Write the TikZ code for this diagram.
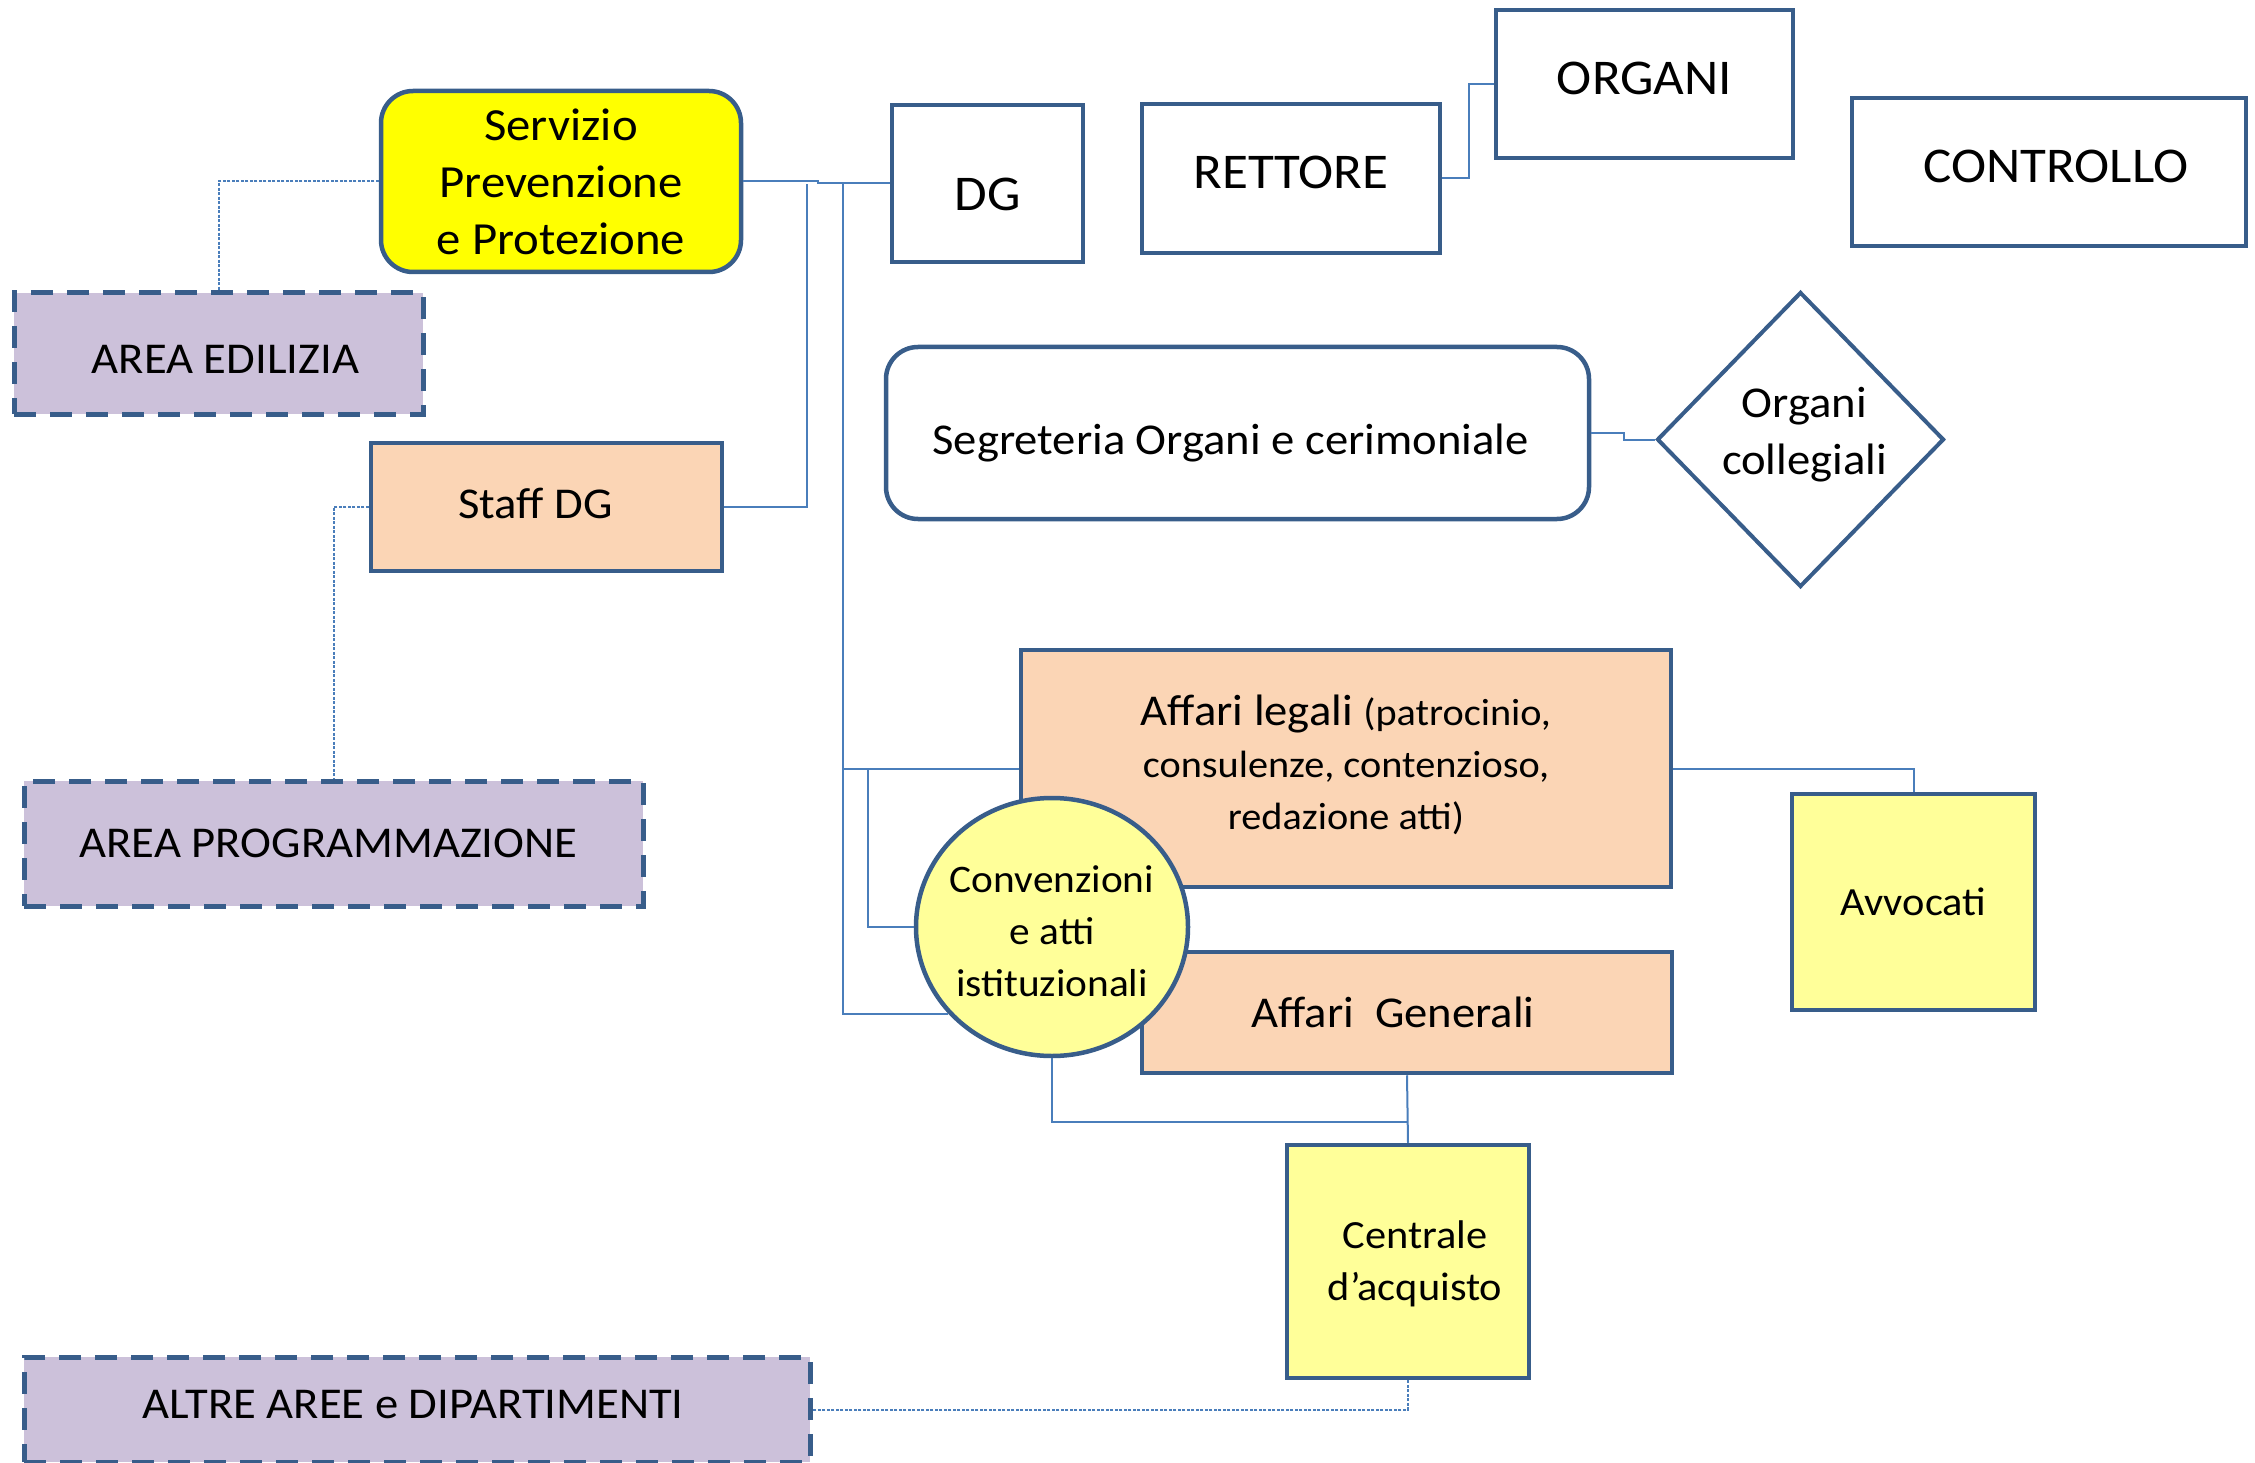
\documentclass[tikz,border=0pt]{standalone}
\usepackage{fontspec}
\setmainfont[FakeStretch=1.06]{Carlito}
\usetikzlibrary{shapes.geometric}
\definecolor{bordo}{HTML}{385D8A}
\definecolor{linea}{HTML}{4A7EBB}
\definecolor{lavanda}{HTML}{CCC1DA}
\definecolor{pesca}{HTML}{FBD5B5}
\definecolor{giallo}{HTML}{FFFF00}
\definecolor{giallino}{HTML}{FFFF99}
\newcommand{\fs}[2]{\fontsize{#1}{#2}\selectfont}
\newcommand{\mv}[3]{\raisebox{#2}[\height][\depth]{\kern#1\relax #3\kern-#1\relax}}
\tikzset{
  box/.style={draw=bordo, line width=4.5pt, rectangle, inner sep=0pt, align=center, text=black},
  areabox/.style={box, fill=lavanda, dash pattern=on 22pt off 14pt, line width=5pt},
  conn/.style={draw=linea, line width=2pt},
  dotconn/.style={draw=linea, line width=2pt, dash pattern=on 3pt off 1.5pt},
}
\begin{document}
\begin{tikzpicture}[x=1pt,y=-1pt]
\useasboundingbox (0,0) rectangle (2255,1463);
% nodes
\node[box, rounded corners=32pt, fill=giallo, minimum width=360pt, minimum height=181pt, font=\fs{46}{57}] (serv) at (561,181.5) {Servizio\\Prevenzione\\e Protezione};
\node[box, minimum width=191pt, minimum height=157pt, font=\fs{50}{60}] (dg) at (987.5,183.5) {\mv{0pt}{-11pt}{DG}};
\node[box, minimum width=298pt, minimum height=149pt, font=\fs{50}{60}] (ret) at (1291,178.5) {\mv{0pt}{6pt}{RETTORE}};
\node[box, minimum width=297pt, minimum height=148pt, font=\fs{50}{60}] (org) at (1644.5,84) {\mv{0pt}{6pt}{ORGANI}};
\node[box, minimum width=394pt, minimum height=148pt, font=\fs{50}{60}] (contr) at (2049,172) {\mv{7pt}{6pt}{CONTROLLO}};
\node[areabox, minimum width=409pt, minimum height=121pt, font=\fs{44}{54}] (ae) at (218.5,353.5) {\mv{7pt}{-6pt}{AREA EDILIZIA}};
\node[box, fill=pesca, minimum width=351pt, minimum height=128pt, font=\fs{44}{54}] (staff) at (546.5,507) {\mv{-11pt}{4pt}{Staff DG}};
\node[box, rounded corners=32pt, minimum width=703pt, minimum height=172pt, font=\fs{44}{54}] (seg) at (1237.5,433) {\mv{-7pt}{-10pt}{Segreteria Organi e cerimoniale}};
\node[draw=bordo, line width=4pt, diamond, inner sep=0pt, minimum width=287pt, minimum height=295pt, align=center, font=\fs{44}{57}] (col) at (1800.5,439.5) {\mv{4pt}{5pt}{Organi}\\\mv{4pt}{5pt}{collegiali}};
\node[areabox, minimum width=619pt, minimum height=125pt, font=\fs{44}{54}] (ap) at (333.5,843.5) {\mv{-5pt}{0pt}{AREA PROGRAMMAZIONE}};
\node[box, fill=pesca, minimum width=650pt, minimum height=237pt, font=\fs{38}{52}] (al) at (1346,768.5) {\mv{0pt}{4pt}{{\fs{44}{52}Affari legali }(patrocinio,}\\\mv{0pt}{4pt}{consulenze, contenzioso,}\\\mv{0pt}{4pt}{redazione atti)}};
\node[box, fill=pesca, minimum width=530pt, minimum height=121pt, font=\fs{44}{54}] (ag) at (1407,1012.5) {\mv{-14pt}{0pt}{Affari~~Generali}};
\node[draw=bordo, line width=4.5pt, ellipse, fill=giallino, inner sep=0pt, minimum width=272pt, minimum height=258pt, align=center, font=\fs{39}{52}] (conv) at (1052,927) {\mv{0pt}{-4pt}{\makebox[0pt]{Convenzioni}}\\\mv{0pt}{-4pt}{\makebox[0pt]{e atti}}\\\mv{0pt}{-4pt}{\makebox[0pt]{istituzionali}}};
\node[box, fill=giallino, minimum width=243pt, minimum height=216pt, font=\fs{40}{52}] (av) at (1913.5,902) {Avvocati};
\node[box, fill=giallino, minimum width=242pt, minimum height=233pt, font=\fs{40}{52}] (cen) at (1408,1261.5) {\mv{7pt}{-2pt}{Centrale}\\\mv{7pt}{-2pt}{d’acquisto}};
\node[areabox, minimum width=786pt, minimum height=105pt, font=\fs{44}{54}] (altre) at (417,1409.5) {\mv{-4pt}{5pt}{ALTRE AREE e DIPARTIMENTI}};
% junctions
\coordinate (j1) at (807,184);
\coordinate (j2) at (843,184);
\coordinate (j3) at (868,768.5);
\coordinate (j4) at (1407,1122);
% connectors
\draw[conn] (serv.east) -- ++(75,0) |- (dg.west);
\draw[conn] (staff.east) -| (j1);
\draw[conn] (j2) |- (al.west);
\draw[conn] (j2) |- (conv.220);
\draw[conn] (j3) |- (conv.west);
\draw[conn] (ag.south) -- (cen.north);
\draw[conn] (conv.south) |- (j4);
\draw[conn] (al.east) -| (av.north);
\draw[conn] (seg.east) -- ++(33,0) |- (col.west);
\draw[conn] (ret.east) -- ++(27,0) |- (org.west);
\draw[dotconn] (serv.west) -| (ae.north);
\draw[dotconn] (staff.west) -| (ap.north);
\draw[dotconn] (cen.south) |- (altre.east);
\end{tikzpicture}
\end{document}
